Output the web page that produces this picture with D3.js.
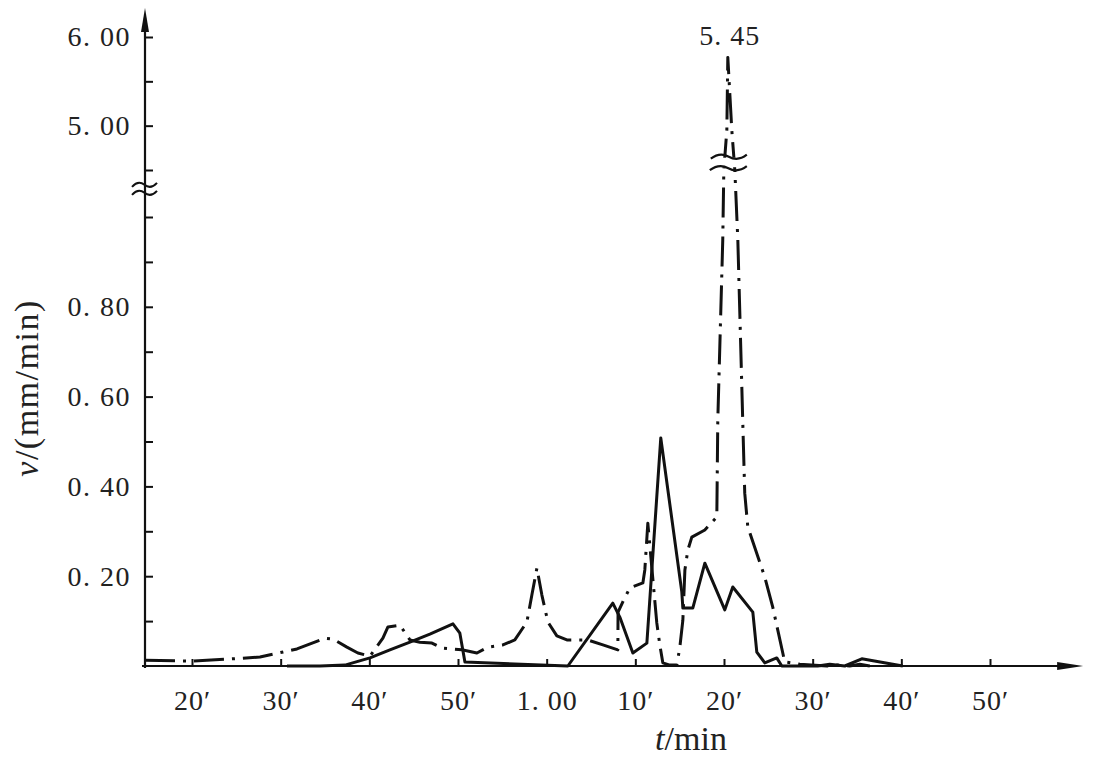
<!DOCTYPE html>
<html>
<head>
<meta charset="utf-8">
<script src="https://cdn.jsdelivr.net/npm/d3@7"></script>
<style>
  body { margin: 0; background: #fff; }
  svg { display: block; font-family: "Liberation Serif", "DejaVu Serif", serif; }
</style>
</head>
<body>
<script>
// t in minutes (60 = 1.00), v in mm/min
var solidT = [30.71, 34.43, 37.25, 40.07, 42.32, 44.58, 46.83, 49.43, 50.21, 50.78, 62.39,
  67.46, 68.25, 69.72, 71.30, 72.87, 75.24, 75.36, 76.48, 77.84, 80.09, 80.99, 83.25,
  83.70, 84.60, 85.95, 86.52, 90.57, 91.93, 93.62, 95.54, 100.16];
var solidV = [0, 0, 0.002, 0.018, 0.036, 0.053, 0.071, 0.094, 0.073, 0.009, 0,
  0.140, 0.109, 0.029, 0.051, 0.508, 0.165, 0.129, 0.129, 0.229, 0.125, 0.176, 0.120,
  0.031, 0.007, 0.018, 0, 0, 0.004, 0, 0.016, 0];

var dashT = [14.70, 20.00, 24.62, 27.67, 31.84, 34.99, 35.90, 37.47, 38.71, 40.07, 41.53,
  42.10, 43.45, 44.58, 45.70, 47.06, 48.18, 50.44, 52.13, 53.37, 55.06, 56.41, 57.77,
  58.33, 58.90, 59.46, 60.14, 61.15, 62.28, 64.65, 66.34, 68.03, 68.05, 68.59, 69.38,
  70.85, 71.07, 71.41, 72.42, 72.76, 73.10, 73.89, 74.68, 75.02, 75.36, 75.59, 75.92,
  76.37, 77.84, 79.19, 79.30, 79.86, 79.98, 80.32, 80.43, 80.88, 81.22, 81.56, 82.12,
  82.34, 82.68, 84.60, 85.50, 86.63, 86.85, 88.55, 91.59, 92.83, 94.18, 95.31, 96.44];
var dashV = [0.013, 0.011, 0.016, 0.020, 0.038, 0.062, 0.060, 0.042, 0.029, 0.022, 0.062,
  0.087, 0.091, 0.058, 0.053, 0.051, 0.040, 0.036, 0.029, 0.042, 0.047, 0.058, 0.098,
  0.158, 0.218, 0.158, 0.098, 0.067, 0.058, 0.058, 0.047, 0.036, 0.120, 0.143, 0.174,
  0.185, 0.214, 0.318, 0.096, 0.047, 0.007, 0.002, 0.002, 0.042, 0.102, 0.214, 0.258,
  0.287, 0.303, 0.332, 0.548, 0.949, 4.5, 4.95, 5.77, 4.95, 4.5, 0.949, 0.541,
  0.385, 0.310, 0.198, 0.131, 0.029, 0.009, 0.004, 0, 0.002, 0, 0.004, 0];

var peakLabel = "5. 45";

var xTickValues = [20, 30, 40, 50, 60, 70, 80, 90, 100, 110];
var xTickLabels = ["20′", "30′", "40′", "50′", "1. 00", "10′", "20′", "30′", "40′", "50′"];
var yTickValues = [0.1, 0.2, 0.3, 0.4, 0.5, 0.6, 0.7, 0.8, 0.9, 1.0, 4.5, 5.0, 5.5, 6.0];
var yTickLabels = ["", "0. 20", "", "0. 40", "", "0. 60", "", "0. 80", "", "", "", "5. 00", "", "6. 00"];

const w = 1097;
const h = 757;
const axisX = 145;
const font = "'Liberation Serif', 'DejaVu Serif', serif";

const xScale = d3.scaleLinear().domain([20, 110]).range([192, 990]);
// broken axis: 0..1.0 below the break, 4.5..6.0 above it
const yScale = d3.scaleLinear().domain([0, 1, 4.5, 6]).range([666, 217, 170, 37]);

const svg = d3.select("body").append("svg")
  .attr("width", w)
  .attr("height", h);

// axes
const xAxis = d3.axisBottom(xScale)
  .tickValues(xTickValues)
  .tickSize(-7)
  .tickPadding(44)
  .tickFormat((d, i) => xTickLabels[i]);

const gx = svg.append("g")
  .attr("transform", "translate(0," + yScale(0) + ")")
  .call(xAxis)
  .attr("font-family", font);
gx.select(".domain").remove();
gx.selectAll("line").attr("stroke", "#111").attr("stroke-width", 2);
gx.selectAll("text")
  .attr("fill", "#222")
  .attr("dy", "0")
  .style("font-size", "28px")
  .style("letter-spacing", "1px");

const yAxis = d3.axisLeft(yScale)
  .tickValues(yTickValues)
  .tickSize(-8)
  .tickPadding(14)
  .tickFormat((d, i) => yTickLabels[i]);

const gy = svg.append("g")
  .attr("transform", "translate(" + axisX + ",0)")
  .call(yAxis)
  .attr("font-family", font);
gy.select(".domain").remove();
gy.selectAll("line").attr("stroke", "#111").attr("stroke-width", 2);
gy.selectAll("text")
  .attr("fill", "#222")
  .style("font-size", "28px")
  .style("letter-spacing", "1.5px");

// axis lines with arrows
const xEnd = xScale(120.5);
svg.append("line")
  .attr("x1", xScale(14.7) - 3).attr("x2", xEnd - 10)
  .attr("y1", yScale(0)).attr("y2", yScale(0))
  .attr("stroke", "#111").attr("stroke-width", 2.2);
svg.append("path")
  .attr("d", "M" + xEnd + "," + yScale(0) + " L" + (xEnd - 26) + "," + (yScale(0) - 4) +
    " L" + (xEnd - 26) + "," + (yScale(0) + 4) + "Z")
  .attr("fill", "#111");

const yTop = yScale(6) - 29;
svg.append("line")
  .attr("x1", axisX).attr("x2", axisX)
  .attr("y1", yScale(0) + 2).attr("y2", yTop + 10)
  .attr("stroke", "#111").attr("stroke-width", 2.2);
svg.append("path")
  .attr("d", "M" + axisX + "," + yTop + " L" + (axisX - 4) + "," + (yTop + 24) +
    " L" + (axisX + 4) + "," + (yTop + 24) + "Z")
  .attr("fill", "#111");

// wavy break marks
function wave(x0, x1, y) {
  const m = (x0 + x1) / 2;
  return "M" + x0 + "," + (y + 2) +
    " Q" + ((x0 + m) / 2) + "," + (y - 5) + " " + m + "," + y +
    " Q" + ((m + x1) / 2) + "," + (y + 5) + " " + x1 + "," + (y - 2);
}
const yBreak = yScale(3.1);
svg.append("path").attr("d", wave(axisX - 13, axisX + 12, yBreak - 4))
  .attr("fill", "none").attr("stroke", "#111").attr("stroke-width", 2);
svg.append("path").attr("d", wave(axisX - 13, axisX + 12, yBreak + 4))
  .attr("fill", "none").attr("stroke", "#111").attr("stroke-width", 2);

// series
const line = d3.line()
  .x((d) => xScale(d[0]))
  .y((d) => yScale(d[1]));

const solid = solidT.map((t, i) => [t, solidV[i]]);
const dash = dashT.map((t, i) => [t, dashV[i]]);

svg.append("path")
  .datum(dash)
  .attr("d", line)
  .attr("fill", "none")
  .attr("stroke", "#111")
  .attr("stroke-width", 3)
  .attr("stroke-linejoin", "round")
  .attr("stroke-dasharray", "30 8 3 8");

svg.append("path")
  .datum(solid)
  .attr("d", line)
  .attr("fill", "none")
  .attr("stroke", "#111")
  .attr("stroke-width", 3)
  .attr("stroke-linejoin", "round");

// break on the peak
const peak = dash.reduce((a, b) => (b[1] > a[1] ? b : a));
const px = xScale(peak[0]);
const bTop = yScale(4.65);
const bBot = yScale(4.52);
svg.append("rect")
  .attr("x", px - 17).attr("width", 34)
  .attr("y", bTop + 1).attr("height", bBot - bTop - 2)
  .attr("fill", "#fff");
svg.append("path").attr("d", wave(px - 17, px + 19, bTop))
  .attr("fill", "none").attr("stroke", "#111").attr("stroke-width", 2.2);
svg.append("path").attr("d", wave(px - 18, px + 19, bBot))
  .attr("fill", "none").attr("stroke", "#111").attr("stroke-width", 2.2);

svg.append("text")
  .attr("x", px + 2)
  .attr("y", yScale(peak[1]) - 12)
  .attr("text-anchor", "middle")
  .attr("fill", "#222")
  .style("font-size", "28px")
  .style("letter-spacing", "1px")
  .text(peakLabel);

// axis titles
const xt = svg.append("text")
  .attr("x", 691)
  .attr("y", 750)
  .attr("text-anchor", "middle")
  .attr("fill", "#222")
  .style("font-size", "34px");
xt.append("tspan").style("font-style", "italic").text("t");
xt.append("tspan").text("/min");

const yt = svg.append("text")
  .attr("transform", "translate(38,388) rotate(-90)")
  .attr("text-anchor", "middle")
  .attr("fill", "#222")
  .style("font-size", "34px")
  .style("letter-spacing", "1.5px");
yt.append("tspan").style("font-style", "italic").text("v");
yt.append("tspan").text("/(mm/min)");
</script>
</body>
</html>
